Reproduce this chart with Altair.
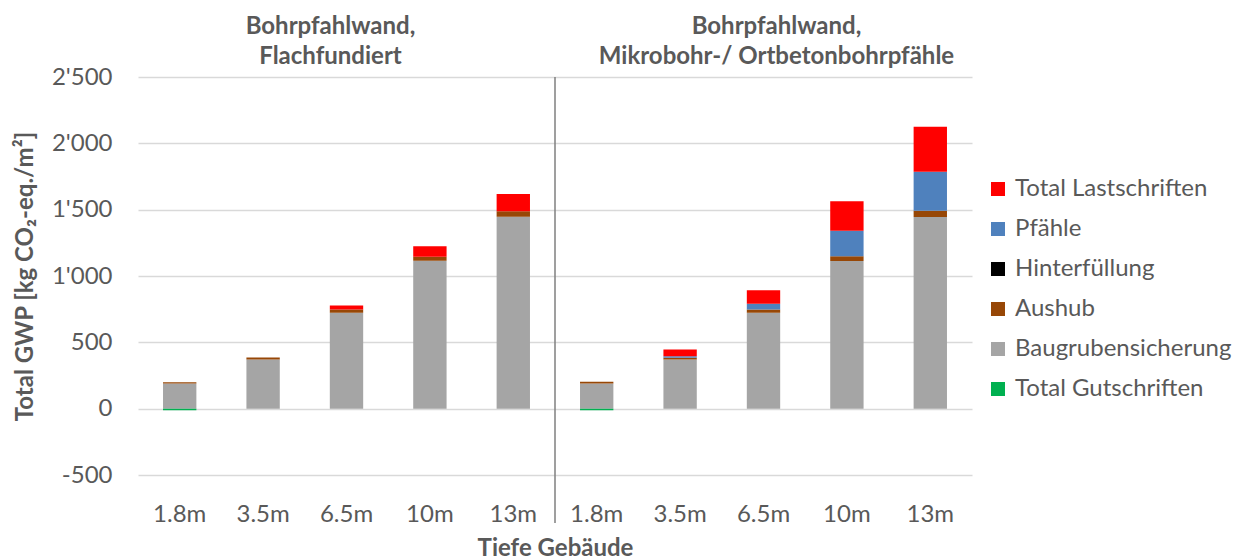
import altair as alt
import pandas as pd

# Categories
depths = ["1.8m", "3.5m", "6.5m", "10m", "13m"]
groups = ["Flachfundiert", "Mikrobohr"]
components = ["Total Lastschriften", "Pfähle", "Hinterfüllung", "Aushub",
              "Baugrubensicherung", "Total Gutschriften"]
colors = ["#ff0000", "#4f81bd", "#000000", "#974706", "#a5a5a5", "#00b050"]
stack_rank = {"Baugrubensicherung": 0, "Aushub": 1, "Hinterfüllung": 2,
              "Pfähle": 3, "Total Lastschriften": 4, "Total Gutschriften": 5}

# Bohrpfahlwand, flachfundiert [kg CO2-eq./m2]
flach_baugrube = [190, 370, 723, 1115, 1447]
flach_aushub = [10, 15, 25, 30, 42]
flach_hinterfuellung = [0, 0, 0, 0, 0]
flach_pfaehle = [0, 0, 0, 0, 0]
flach_lastschriften = [0, 0, 30, 80, 130]
flach_gutschriften = [-12, 0, 0, 0, 0]

# Bohrpfahlwand, Mikrobohr-/ Ortbetonbohrpfähle [kg CO2-eq./m2]
mikro_baugrube = [190, 370, 723, 1113, 1444]
mikro_aushub = [13, 14, 25, 35, 48]
mikro_hinterfuellung = [0, 0, 0, 0, 0]
mikro_pfaehle = [0, 12, 43, 193, 294]
mikro_lastschriften = [0, 50, 102, 223, 339]
mikro_gutschriften = [-12, 0, 0, 0, 0]

group_titles = ["Bohrpfahlwand,\nFlachfundiert",
                "Bohrpfahlwand,\nMikrobohr-/ Ortbetonbohrpfähle"]

series = {
    "Flachfundiert": {
        "Baugrubensicherung": flach_baugrube, "Aushub": flach_aushub,
        "Hinterfüllung": flach_hinterfuellung, "Pfähle": flach_pfaehle,
        "Total Lastschriften": flach_lastschriften,
        "Total Gutschriften": flach_gutschriften,
    },
    "Mikrobohr": {
        "Baugrubensicherung": mikro_baugrube, "Aushub": mikro_aushub,
        "Hinterfüllung": mikro_hinterfuellung, "Pfähle": mikro_pfaehle,
        "Total Lastschriften": mikro_lastschriften,
        "Total Gutschriften": mikro_gutschriften,
    },
}

rows = []
for g in groups:
    for comp, vals in series[g].items():
        for d, v in zip(depths, vals):
            rows.append({"key": f"{g}|{d}", "Komponente": comp, "GWP": v,
                         "rank": stack_rank[comp]})
df = pd.DataFrame(rows)
order_keys = [f"{g}|{d}" for g in groups for d in depths]

FONT = "Lato"
GREY = "#595959"
W, H = 834, 398

x_enc = alt.X("key:N", sort=order_keys,
              scale=alt.Scale(domain=order_keys, paddingInner=0, paddingOuter=0),
              axis=alt.Axis(title="Tiefe Gebäude", labelExpr="split(datum.label, '|')[1]",
                            labelAngle=0, labelPadding=27, labelFontSize=24,
                            labelColor=GREY, labelFont=FONT, ticks=False, domain=False,
                            titleFont=FONT, titleFontSize=24, titleFontWeight="bold",
                            titleColor=GREY, titleX=W / 2, titleY=73,
                            titleBaseline="middle", titleAlign="center"))

# thousands separated by an apostrophe, plain hyphen for negatives
y_label_expr = ("(datum.value < 0 ? '-' : '') + "
                "replace(format(abs(datum.value), ','), ',', \"'\")")

bars = alt.Chart(df).mark_bar(width=alt.RelativeBandSize(0.4)).encode(
    x=x_enc,
    y=alt.Y("GWP:Q", stack="zero",
            scale=alt.Scale(domain=[-500, 2500], nice=False),
            axis=alt.Axis(title="Total GWP [kg CO₂-eq./m²]",
                          values=[-500, 0, 500, 1000, 1500, 2000, 2500],
                          labelExpr=y_label_expr,
                          labelFontSize=24, labelColor=GREY, labelFont=FONT,
                          labelPadding=26, ticks=False, domain=False,
                          gridColor="#d9d9d9", gridWidth=1.3,
                          titleFont=FONT, titleFontSize=24, titleFontWeight="bold",
                          titleColor=GREY, titleAngle=270, titleX=-113, titleY=H / 2,
                          titleAlign="center", titleBaseline="middle")),
    color=alt.Color("Komponente:N",
                    scale=alt.Scale(domain=components, range=colors),
                    legend=alt.Legend(title=None, orient="none", legendX=848, legendY=100,
                                      symbolType="square", symbolSize=196,
                                      symbolStrokeWidth=0, labelFontSize=24,
                                      labelFont=FONT, labelColor=GREY, labelOffset=5,
                                      labelLimit=400, rowPadding=16, padding=0)),
    order=alt.Order("rank:Q", sort="ascending"),
)

# Vertical divider between the two wall variants
divider = alt.Chart(pd.DataFrame({"key": ["Flachfundiert|13m"]})).mark_rule(
    color="#7f7f7f", strokeWidth=1.5
).encode(
    x=alt.X("key:N", sort=order_keys, bandPosition=1),
    y=alt.value(0),
    y2=alt.value(H + 48),
)

title_left = alt.Chart(pd.DataFrame({"key": ["Flachfundiert|6.5m"], "t": [group_titles[0]]})
                       ).mark_text(font=FONT, fontSize=24, fontWeight="bold", color=GREY,
                                   lineBreak="\n", lineHeight=30, baseline="middle",
                                   align="center", dx=-16).encode(
    x=alt.X("key:N", sort=order_keys, bandPosition=0.5), y=alt.value(-50), text="t:N")

title_right = alt.Chart(pd.DataFrame({"key": ["Mikrobohr|6.5m"], "t": [group_titles[1]]})
                        ).mark_text(font=FONT, fontSize=24, fontWeight="bold", color=GREY,
                                    lineBreak="\n", lineHeight=30, baseline="middle",
                                    align="center", dx=13).encode(
    x=alt.X("key:N", sort=order_keys, bandPosition=0.5), y=alt.value(-50), text="t:N")

chart = alt.layer(bars, divider, title_left, title_right).properties(
    width=W, height=H,
    autosize=alt.AutoSizeParams(type="none"),
    padding={"left": 138, "top": 77, "right": 1250 - 138 - W, "bottom": 559 - 77 - H},
    background="white",
).configure_view(stroke=None)

chart.save("out.html", embed_options={"renderer": "svg", "actions": False})
